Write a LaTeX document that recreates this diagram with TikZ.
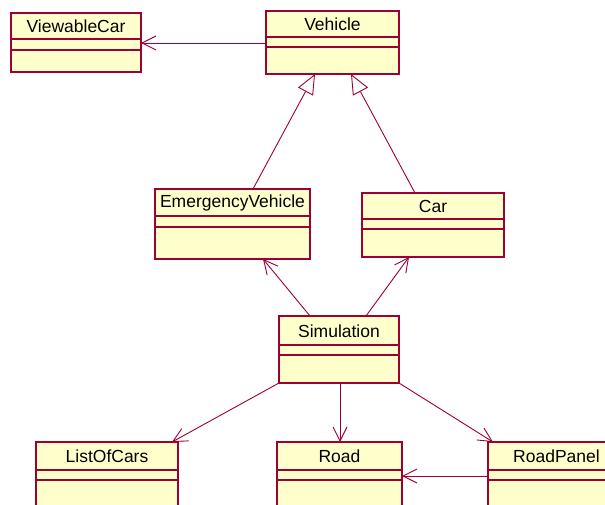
\documentclass[tikz,border=0pt]{standalone}
\usepackage{fontspec}
\setmainfont{Liberation Sans}
\usetikzlibrary{arrows.meta,calc}

\definecolor{umlline}{RGB}{158,0,52}
\definecolor{umlfill}{RGB}{255,255,204}

\tikzset{
  classbox/.style={draw=umlline, fill=umlfill, line width=1.3pt,
    rectangle, inner sep=0pt, outer sep=0pt, anchor=north west},
  classname/.style={font=\fontsize{17.5}{20}\selectfont, inner sep=0pt, text=black},
  divider/.style={draw=umlline, line width=1.1pt},
  assoc/.style={draw=umlline, line width=0.9pt,
    -{Straight Barb[length=14pt,width=14pt,line width=0.9pt]}},
  generalize/.style={draw=umlline, line width=0.9pt,
    -{Triangle[open,length=20pt,width=17pt,line width=0.9pt,fill=white]}},
}

% \umlclass{name}{x1}{y1}{x2}{y2}{first divider}{second divider}{title}
\newcommand{\umlclass}[8]{%
  \node[classbox, minimum width=#4pt-#2pt, minimum height=#5pt-#3pt] (#1) at (#2,#3) {};
  \path[divider] (#2,#6) -- (#4,#6);
  \path[divider] (#2,#7) -- (#4,#7);
  \node[classname] (#1-title) at ({(#2+#4)/2},{(#3+#6)/2+0.5}) {#8};
}

\begin{document}
\begin{tikzpicture}[x=1pt,y=-1pt]
  \useasboundingbox (0,0) rectangle (605,505);
  \clip (0,0) rectangle (605,505);

  \umlclass{viewable}{11}{13}{141}{72}{39}{50}{ViewableCar}
  \umlclass{vehicle}{266}{11}{399}{74}{37}{47}{Vehicle}
  \umlclass{emergency}{155}{189}{310}{259}{216}{227}{EmergencyVehicle}
  \umlclass{car}{362}{193}{504}{257}{219}{229}{Car}
  \umlclass{sim}{279}{316}{399}{383}{345}{355}{Simulation}
  \umlclass{list}{36}{442}{178}{520}{470}{480}{ListOfCars}
  \umlclass{road}{277}{442}{402}{520}{470}{480}{Road}
  \umlclass{panel}{488}{442}{625}{520}{470}{480}{RoadPanel}

  % associations
  \draw[assoc] ($(vehicle.north west)+(0,32)$) -- ($(viewable.north east)+(0,30)$);
  \draw[assoc] ($(sim.north west)+(31,0)$) -- ($(emergency.south west)+(108,0)$);
  \draw[assoc] ($(sim.north west)+(87,0)$) -- ($(car.south west)+(47,0)$);
  \draw[assoc] (sim.south west) -- ($(list.north west)+(136,0)$);
  \draw[assoc] ($(sim.south west)+(61,0)$) -- ($(road.north west)+(63,0)$);
  \draw[assoc] (sim.south east) -- ($(panel.north west)+(5,0)$);
  \draw[assoc] ($(panel.north west)+(0,34)$) -- ($(road.north east)+(0,34)$);

  % inheritance
  \draw[generalize] ($(emergency.north west)+(98,0)$) -- ($(vehicle.south west)+(49,0)$);
  \draw[generalize] ($(car.north west)+(53,0)$) -- ($(vehicle.south west)+(85,0)$);
\end{tikzpicture}
\end{document}
